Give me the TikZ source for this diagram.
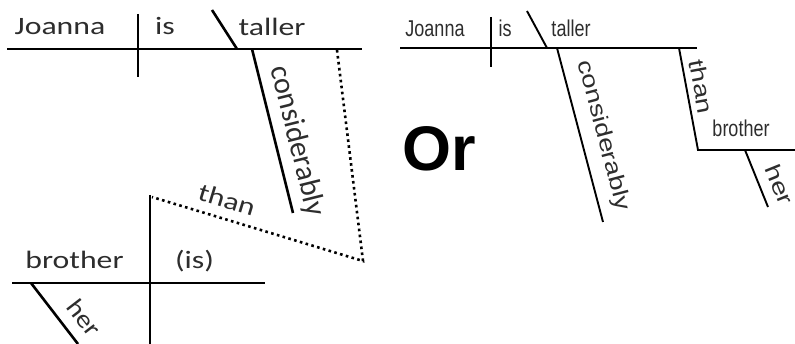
\documentclass[tikz,border=0pt]{standalone}
\usepackage{fontspec}
\usepackage{graphicx}
\setmainfont{Carlito}
\newfontfamily\arialf{Liberation Sans}
\definecolor{txt}{RGB}{45,45,45}
\tikzset{
  ln/.style={line width=2.6pt},
  rln/.style={line width=1.9pt},
  dots/.style={line width=2.6pt, dash pattern=on 2.6pt off 3.4pt},
  lt/.style={inner sep=0pt, text=txt, font=\fontsize{25}{25}\selectfont},
  rt/.style={inner sep=0pt, text=txt, font=\arialf\fontsize{18}{18}\selectfont},
  rtb/.style={inner sep=0pt, text=txt, font=\arialf\fontsize{22}{22}\selectfont},
}
\newcommand\wx[2]{\scalebox{#1}[1]{#2}}
\newcommand\wy[2]{\scalebox{1}[#1]{#2}}
\begin{document}
\begin{tikzpicture}[x=1pt,y=-1pt]
\useasboundingbox (0,0) rectangle (795,344);
% ---------- left diagram ----------
\coordinate (b1) at (7,49);   \coordinate (b2) at (362,49);
\coordinate (d1) at (138,14); \coordinate (d2) at (138,77);
\coordinate (s1) at (212,10); \coordinate (s2) at (237,49);
\coordinate (c1) at (252,49); \coordinate (c2) at (293,213);
\coordinate (p1) at (337,50); \coordinate (p2) at (363,261); \coordinate (p3) at (152,197);
\coordinate (v1) at (150,195); \coordinate (v2) at (150,344);
\coordinate (l1) at (12,283); \coordinate (l2) at (265,283);
\coordinate (h1) at (31,283); \coordinate (h2) at (78,344);
\draw[ln] (b1) -- (b2);
\draw[ln] (d1) -- (d2);
\draw[ln] (s1) -- (s2);
\draw[ln] (c1) -- (c2);
\draw[dots] (p1) -- (p2) -- (p3);
\draw[ln] (v1) -- (v2);
\draw[ln] (l1) -- (l2);
\draw[ln] (h1) -- (h2);
\node[lt, anchor=base] (joanna) at (60,35) {\wx{1.27}{Joanna}};
\node[lt, anchor=base] (is) at (165,35) {\wx{1.27}{is}};
\node[lt, anchor=base] (taller) at (272,36) {\wx{1.27}{taller}};
\node[lt, anchor=base] (brother) at (74.5,269) {\wx{1.27}{brother}};
\node[lt, anchor=base] (isb) at (194.5,269) {\wx{1.27}{(is)}};
\node[lt, font=\fontsize{30}{30}\selectfont, rotate=-76] (cons) at (297,141) {considerably};
\node[lt, rotate=-16.9] (than) at (227,200) {\wx{1.25}{than}};
\node[lt, rotate=-52.4] (her) at (84,318) {\wx{1.15}{her}};
% ---------- Or ----------
\node[inner sep=0pt, font=\arialf\bfseries\fontsize{63}{63}\selectfont] (or) at (439.5,148.5) {Or};
% ---------- right diagram ----------
\coordinate (rb1) at (400,48); \coordinate (rb2) at (697,48);
\coordinate (rd1) at (491,17); \coordinate (rd2) at (491,67);
\coordinate (rs1) at (527,11); \coordinate (rs2) at (547,48);
\coordinate (rc1) at (557,48); \coordinate (rc2) at (603,222);
\coordinate (rt1) at (679,48); \coordinate (rt2) at (698,150); \coordinate (rt3) at (795,150);
\coordinate (rh1) at (745,150); \coordinate (rh2) at (768,207);
\draw[rln] (rb1) -- (rb2);
\draw[rln] (rd1) -- (rd2);
\draw[rln] (rs1) -- (rs2);
\draw[rln] (rc1) -- (rc2);
\draw[rln] (rt1) -- (rt2) -- (rt3);
\draw[rln] (rh1) -- (rh2);
\node[rt, anchor=base] (rjoanna) at (435,37) {\wy{1.27}{Joanna}};
\node[rt, anchor=base] (ris) at (505,37) {\wy{1.27}{is}};
\node[rt, anchor=base] (rtaller) at (571,37) {\wy{1.27}{taller}};
\node[rt, anchor=base] (rbrother) at (741,137) {\wy{1.27}{brother}};
\node[rtb, rotate=-75.2] (rcons) at (603,135.5) {\wx{1.25}{considerably}};
\node[rtb, rotate=-79.4] (rthan) at (701.5,86.5) {\wx{1.27}{than}};
\node[rtb, rotate=-68] (rher) at (780,184.5) {\wx{1.3}{her}};
\end{tikzpicture}
\end{document}
